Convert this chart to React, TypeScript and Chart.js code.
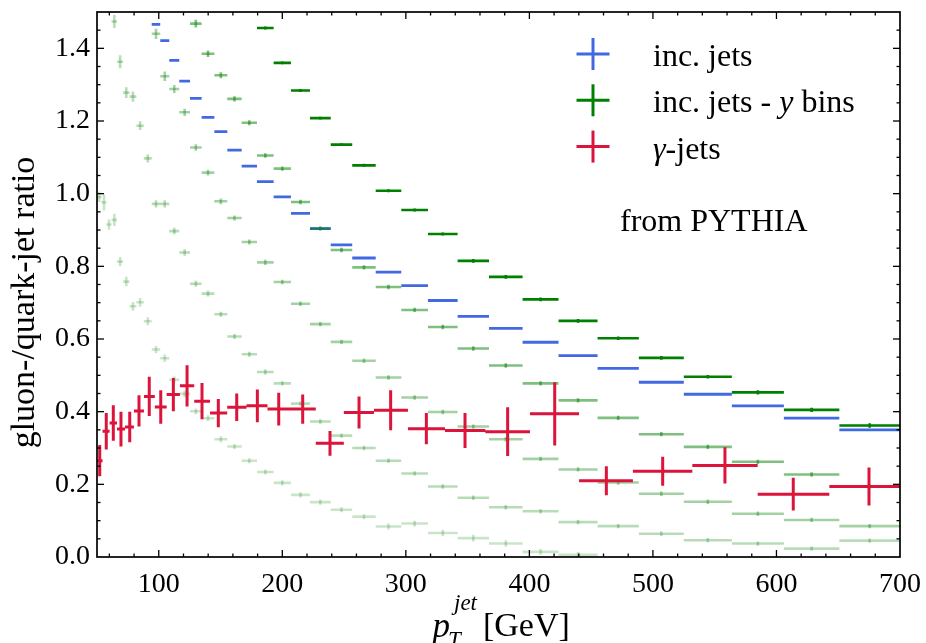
import React, { useEffect, useRef } from 'react';
import { Chart, registerables } from 'chart.js';

Chart.register(...registerables);

const SERIF = "'Liberation Serif', 'Times New Roman', serif";
const N = null;

// pT bin edges of the inclusive-jet samples [GeV]
const jetBinEdges = [
  50, 53.7, 57.6, 61.8, 66.3, 71.1, 76.3, 81.9, 87.9, 94.3, 101.2, 108.5, 116.6, 125.3, 134.7,
  145, 155.5, 167.1, 179.5, 193, 207, 222.4, 239.2, 256.6, 275.6, 296.3, 317.9, 341.9, 367.3,
  394.5, 423.6, 455.2, 488.6, 525, 563.9, 606, 650.9, 700,
];

// inclusive jets, all rapidities
const incJets = [
  N, N, N, N, N, N, N, N, N, 1.466, 1.421, 1.367, 1.31, 1.262, 1.21, 1.171, 1.12, 1.076, 1.033,
  0.991, 0.946, 0.904, 0.859, 0.823, 0.784, 0.747, 0.706, 0.662, 0.629, 0.591, 0.554, 0.519,
  0.481, 0.448, 0.416, 0.382, 0.35,
];

// inclusive jets split in rapidity bins (central -> forward)
const yBin1 = [
  N, N, N, N, N, N, N, N, N, N, N, N, N, N, N, N, N, N, 1.456, 1.36, 1.284, 1.208, 1.135, 1.078,
  1.008, 0.955, 0.889, 0.815, 0.771, 0.709, 0.65, 0.602, 0.548, 0.496, 0.453, 0.405, 0.362,
];
const yBin1Err = [
  N, N, N, N, N, N, N, N, N, N, N, N, N, N, N, N, N, N, 0.004, 0.004, 0.004, 0.004, 0.004, 0.004,
  0.004, 0.004, 0.004, 0.005, 0.005, 0.005, 0.005, 0.005, 0.005, 0.005, 0.006, 0.006, 0.006,
];
const yBin2 = [
  N, N, N, N, N, N, N, N, N, N, N, N, N, 1.468, 1.385, 1.326, 1.261, 1.195, 1.105, 1.069, 0.977,
  0.904, 0.845, 0.797, 0.743, 0.68, 0.633, 0.574, 0.527, 0.478, 0.431, 0.383, 0.338, 0.303,
  0.262, 0.227, 0.194,
];
const yBin2Err = [
  N, N, N, N, N, N, N, N, N, N, N, N, N, 0.011, 0.009, 0.008, 0.007, 0.007, 0.006, 0.006, 0.006,
  0.006, 0.006, 0.006, 0.006, 0.006, 0.006, 0.006, 0.006, 0.006, 0.006, 0.006, 0.006, 0.006,
  0.006, 0.006, 0.006,
];
const yBin3 = [
  N, N, N, N, N, N, N, N, N, 1.44, 1.323, 1.288, 1.224, 1.127, 1.058, 0.979, 0.933, 0.867, 0.811,
  0.757, 0.697, 0.641, 0.592, 0.54, 0.494, 0.439, 0.399, 0.359, 0.324, 0.27, 0.241, 0.205, 0.174,
  0.152, 0.119, 0.102, 0.085,
];
const yBin3Err = [
  N, N, N, N, N, N, N, N, N, 0.014, 0.013, 0.011, 0.01, 0.009, 0.008, 0.008, 0.007, 0.007, 0.007,
  0.006, 0.006, 0.006, 0.006, 0.006, 0.006, 0.006, 0.006, 0.006, 0.006, 0.006, 0.006, 0.006,
  0.006, 0.006, 0.006, 0.006, 0.006,
];
const yBin4 = [
  N, N, N, 1.474, 1.363, 1.278, 1.267, 1.187, 1.097, 0.972, 0.972, 0.897, 0.838, 0.752, 0.725,
  0.668, 0.607, 0.558, 0.509, 0.478, 0.422, 0.373, 0.334, 0.3, 0.265, 0.23, 0.194, 0.163, 0.137,
  0.126, 0.096, 0.085, 0.064, 0.046, 0.037, 0.023, 0.045,
];
const yBin4Err = [
  N, N, N, 0.018, 0.018, 0.015, 0.014, 0.012, 0.011, 0.01, 0.01, 0.009, 0.009, 0.008, 0.008,
  0.007, 0.007, 0.007, 0.007, 0.006, 0.006, 0.006, 0.006, 0.006, 0.006, 0.006, 0.006, 0.006,
  0.006, 0.006, 0.006, 0.006, 0.006, 0.006, 0.006, 0.006, 0.006,
];
const yBin5 = [
  0.991, 0.976, 0.915, 0.928, 0.813, 0.758, 0.69, 0.701, 0.649, 0.571, 0.547, 0.488, 0.449, 0.401,
  0.382, 0.324, 0.304, 0.265, 0.234, 0.204, 0.171, 0.151, 0.13, 0.111, 0.084, 0.092, 0.066, 0.052,
  0.037, 0.014, 0.006, N, N, N, N, N, N,
];
const yBin5Err = [
  0.014, 0.022, 0.014, 0.017, 0.013, 0.013, 0.012, 0.012, 0.011, 0.01, 0.01, 0.009, 0.009, 0.008,
  0.008, 0.008, 0.007, 0.007, 0.007, 0.007, 0.007, 0.007, 0.007, 0.007, 0.008, 0.008, 0.009,
  0.009, 0.009, 0.008, 0.008, N, N, N, N, N, N,
];
const yBinAlpha = [1, 0.5, 0.36, 0.28, 0.21];

// photon + jet sample
const gammaEdges = [
  49.6, 54.5, 60.2, 66.2, 72.7, 79.9, 88, 96.8, 106.4, 117.1, 128.7, 141.5, 155.4, 171, 188,
  206.4, 227.1, 249.8, 274.2, 301.7, 331.7, 364.3, 400.5, 440.2, 483.8, 531.9, 584.8, 642.8, 707,
];
const gammaX = [
  52.2, 57.5, 63.2, 69.4, 76.5, 84, 92.3, 101.6, 111.8, 122.9, 135, 148.2, 163.1, 179.8, 197.1,
  216.5, 238.6, 262.1, 287.7, 316.6, 347.9, 382.4, 420.5, 462.3, 507.9, 558.3, 613.6, 674.9,
];
const gammaRatio = [
  0.265, 0.346, 0.369, 0.352, 0.358, 0.402, 0.442, 0.413, 0.447, 0.471, 0.429, 0.396, 0.412,
  0.416, 0.407, 0.407, 0.313, 0.398, 0.404, 0.353, 0.348, 0.345, 0.394, 0.21, 0.236, 0.252,
  0.173, 0.194,
];
const gammaErr = [
  0.043, 0.05, 0.049, 0.048, 0.042, 0.043, 0.054, 0.046, 0.046, 0.057, 0.05, 0.039, 0.038, 0.045,
  0.045, 0.04, 0.034, 0.044, 0.055, 0.043, 0.048, 0.067, 0.087, 0.04, 0.04, 0.05, 0.045, 0.052,
];

const xMajorTicks = [100, 200, 300, 400, 500, 600, 700];
const yMajorTicks = [0, 0.2, 0.4, 0.6, 0.8, 1.0, 1.2, 1.4];

const BLUE = '#4169e1';
const GREEN = '#008000';
const RED = '#dc143c';

type Piece = { t: string; it?: boolean };
const legendItems: { color: string; label: Piece[] }[] = [
  { color: BLUE, label: [{ t: 'inc. jets' }] },
  { color: GREEN, label: [{ t: 'inc. jets - ' }, { t: 'y', it: true }, { t: ' bins' }] },
  { color: RED, label: [{ t: 'γ', it: true }, { t: '-jets' }] },
];
const noteText = 'from PYTHIA';

type Pt = { x: number; y: number | null };

// horizontal bin-width bars, separated by gaps
function binBars(edges: number[], vals: (number | null)[]): Pt[] {
  const out: Pt[] = [];
  vals.forEach((v, i) => {
    if (v == null) return;
    out.push({ x: edges[i], y: v }, { x: edges[i + 1], y: v }, { x: edges[i + 1], y: null });
  });
  return out;
}

// vertical error bars
function errBars(xs: number[], vals: (number | null)[], errs: (number | null)[]): Pt[] {
  const out: Pt[] = [];
  vals.forEach((v, i) => {
    const e = errs[i];
    if (v == null || e == null) return;
    out.push({ x: xs[i], y: v - e }, { x: xs[i], y: v + e }, { x: xs[i], y: null });
  });
  return out;
}

const jetCenters = jetBinEdges.slice(0, -1).map((e, i) => (e + jetBinEdges[i + 1]) / 2);

function buildDatasets() {
  const layers: { data: Pt[]; color: string; width: number }[] = [];
  layers.push({ data: binBars(jetBinEdges, incJets), color: BLUE, width: 2.8 });
  const bins = [
    [yBin1, yBin1Err],
    [yBin2, yBin2Err],
    [yBin3, yBin3Err],
    [yBin4, yBin4Err],
    [yBin5, yBin5Err],
  ];
  bins.forEach(([vals, errs], k) => {
    const a = yBinAlpha[k];
    const c = a === 1 ? GREEN : `rgba(0,128,0,${a})`;
    layers.push({ data: binBars(jetBinEdges, vals), color: c, width: 2.6 });
    layers.push({ data: errBars(jetCenters, vals, errs), color: c, width: 2.6 });
  });
  layers.push({ data: binBars(gammaEdges, gammaRatio), color: RED, width: 3 });
  layers.push({ data: errBars(gammaX, gammaRatio, gammaErr), color: RED, width: 3 });
  return layers.map((l, i) => ({
    data: l.data,
    borderColor: l.color,
    backgroundColor: l.color,
    borderWidth: l.width,
    borderCapStyle: 'butt' as const,
    pointRadius: 0,
    pointHoverRadius: 0,
    fill: false,
    tension: 0,
    spanGaps: false,
    clip: { left: 0, top: 0, right: 0, bottom: 0 },
    order: layers.length - i,
  }));
}

const decorations = {
  id: 'decorations',
  afterDraw(chart: any) {
    const { ctx, chartArea: a } = chart;
    const xs = chart.scales.x;
    const ys = chart.scales.y;
    ctx.save();
    const seg = (x1: number, y1: number, x2: number, y2: number) => {
      ctx.beginPath();
      ctx.moveTo(x1, y1);
      ctx.lineTo(x2, y2);
      ctx.stroke();
    };

    // inward ticks on all four sides
    ctx.strokeStyle = '#000';
    ctx.lineWidth = 1.3;
    for (let v = 60; v < 700; v += 20) {
      const p = xs.getPixelForValue(v);
      const len = xMajorTicks.includes(v) ? 7 : 3.5;
      seg(p, a.bottom, p, a.bottom - len);
      seg(p, a.top, p, a.top + len);
    }
    for (let k = 1; k < 30; k++) {
      const p = ys.getPixelForValue(k * 0.05);
      const len = k % 4 === 0 ? 7 : 3.5;
      seg(a.left, p, a.left + len, p);
      seg(a.right, p, a.right - len, p);
    }
    ctx.lineWidth = 1.7;
    ctx.strokeRect(a.left, a.top, a.right - a.left, a.bottom - a.top);

    // legend
    ctx.fillStyle = '#000';
    ctx.textBaseline = 'alphabetic';
    ctx.textAlign = 'left';
    const lx = a.right - 307;
    legendItems.forEach((item, i) => {
      const cy = a.top + 42 + i * 46.3;
      ctx.strokeStyle = item.color;
      ctx.lineWidth = 3;
      seg(lx - 16.5, cy, lx + 16.5, cy);
      seg(lx, cy - 16, lx, cy + 16);
      let tx = lx + 60;
      item.label.forEach((p) => {
        ctx.font = `${p.it ? 'italic ' : ''}32px ${SERIF}`;
        ctx.fillText(p.t, tx, cy + 12);
        tx += ctx.measureText(p.t).width;
      });
    });

    // annotation
    ctx.font = `32px ${SERIF}`;
    ctx.fillText(noteText, a.right - 280, a.top + 219);

    // x-axis title: p_T^jet [GeV]
    const cx = (a.left + a.right) / 2;
    let tx = cx - 66;
    ctx.font = `italic 35px ${SERIF}`;
    ctx.fillText('p', tx, 637);
    tx += ctx.measureText('p').width;
    ctx.font = `italic 23px ${SERIF}`;
    ctx.fillText('T', tx - 2, 647);
    ctx.fillText('jet', tx + 4, 610);
    tx += 4 + ctx.measureText('jet').width + 6;
    ctx.font = `34px ${SERIF}`;
    ctx.fillText('[GeV]', tx, 636);

    // y-axis title
    ctx.translate(34, (a.top + a.bottom) / 2 + 18);
    ctx.rotate(-Math.PI / 2);
    ctx.textAlign = 'center';
    ctx.font = `34px ${SERIF}`;
    ctx.fillText('gluon-/quark-jet ratio', 0, 0);
    ctx.restore();
  },
};

export default function App() {
  const ref = useRef<HTMLCanvasElement>(null);
  useEffect(() => {
    const chart = new Chart(ref.current as HTMLCanvasElement, {
      type: 'line',
      data: { datasets: buildDatasets() as any },
      options: {
        responsive: false,
        animation: false,
        events: [],
        layout: { padding: { top: 12, right: 26, left: 0, bottom: 0 } },
        plugins: { legend: { display: false }, tooltip: { enabled: false } },
        scales: {
          x: {
            type: 'linear',
            min: 50,
            max: 700,
            grid: { display: false, drawTicks: false },
            border: { display: false },
            afterBuildTicks: (s: any) => {
              s.ticks = xMajorTicks.map((v) => ({ value: v }));
            },
            afterFit: (s: any) => {
              s.height = 86;
              s.paddingLeft = 0;
              s.paddingRight = 0;
            },
            ticks: {
              color: '#000',
              font: { family: SERIF, size: 28 },
              padding: 11,
              maxRotation: 0,
              autoSkip: false,
              callback: (v: any) => String(v),
            },
          },
          y: {
            type: 'linear',
            min: 0,
            max: 1.5,
            grid: { display: false, drawTicks: false },
            border: { display: false },
            afterBuildTicks: (s: any) => {
              s.ticks = yMajorTicks.map((v) => ({ value: v }));
            },
            afterFit: (s: any) => {
              s.width = 97;
              s.paddingTop = 0;
              s.paddingBottom = 0;
            },
            ticks: {
              color: '#000',
              font: { family: SERIF, size: 28 },
              padding: 7,
              autoSkip: false,
              callback: (v: any) => Number(v).toFixed(1),
            },
          },
        },
      },
      plugins: [decorations],
    });
    return () => chart.destroy();
  }, []);
  return (
    <div style={{ position: 'absolute', left: 0, top: 0, width: 926, height: 643 }}>
      <canvas ref={ref} width={926} height={643} style={{ display: 'block' }} />
    </div>
  );
}
